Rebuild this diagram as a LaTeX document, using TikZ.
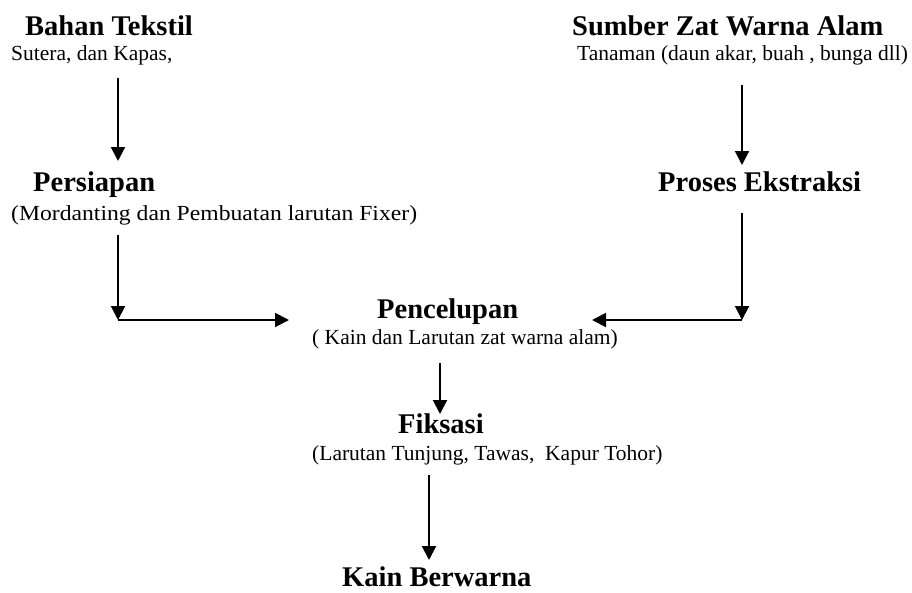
\documentclass[tikz,border=0pt]{standalone}
\usepackage{fontspec}
\setmainfont{Liberation Serif}
\usetikzlibrary{arrows.meta}
\tikzset{
  title/.style={anchor=base west, inner sep=0pt, font=\fontsize{28.5}{30}\selectfont\bfseries},
  sub/.style={anchor=base west, inner sep=0pt, font=\fontsize{21.5}{23}\selectfont},
  arr/.style={line width=2pt, -{Triangle[length=14pt,width=14pt]}},
  ln/.style={line width=2pt}
}
\begin{document}
\begin{tikzpicture}[x=1pt,y=-1pt]
\useasboundingbox (0,0) rectangle (912,592);
% texts
\node[title] (bahan) at (25,35) {Bahan Tekstil};
\node[sub] (sutera) at (11,60) {Sutera, dan Kapas,};
\node[title] (persiapan) at (33,191) {Persiapan};
\node[sub, xscale=1.1, transform shape] (mord) at (11,220) {(Mordanting dan Pembuatan larutan Fixer)};
\node[title] (sumber) at (572,35) {Sumber Zat Warna Alam};
\node[sub] (tanaman) at (577,60) {Tanaman (daun akar, buah , bunga dll)};
\node[title] (proses) at (658,191) {Proses Ekstraksi};
\node[title] (pencelupan) at (377,318) {Pencelupan};
\node[sub] (kain) at (312,344) {( Kain dan Larutan zat warna alam)};
\node[title] (fiksasi) at (398,433) {Fiksasi};
\node[sub] (larutan) at (312,460) {(Larutan Tunjung, Tawas,\ \ Kapur Tohor)};
\node[title] (berwarna) at (342,586) {Kain Berwarna};
% connector points
\coordinate (a1s) at (118,78);
\coordinate (a1e) at (118,161);
\coordinate (a2s) at (742,85);
\coordinate (a2e) at (742,165);
\coordinate (l1s) at (118,235);
\coordinate (l1e) at (118,320);
\coordinate (l1t) at (289,320);
\coordinate (r1s) at (742,213);
\coordinate (r1e) at (742,320);
\coordinate (r1t) at (592,320);
\coordinate (p1s) at (440,363);
\coordinate (p1e) at (440,414);
\coordinate (f1s) at (429,475);
\coordinate (f1e) at (429,560);
% arrows
\draw[arr] (a1s) -- (a1e);
\draw[arr] (a2s) -- (a2e);
\draw[arr] (l1s) -- (l1e);
\draw[arr] (l1e) -- (l1t);
\draw[arr] (r1s) -- (r1e);
\draw[arr] (r1e) -- (r1t);
\draw[arr] (p1s) -- (p1e);
\draw[arr] (f1s) -- (f1e);
\end{tikzpicture}
\end{document}
